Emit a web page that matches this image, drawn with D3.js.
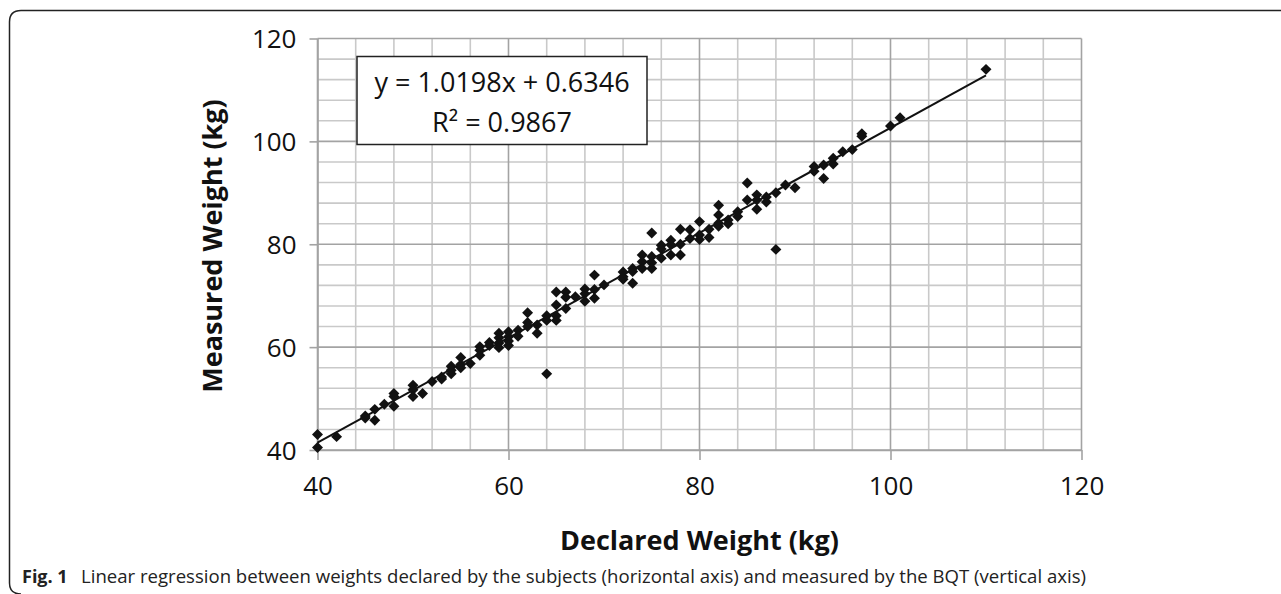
<!DOCTYPE html>
<html>
<head>
<meta charset="utf-8">
<script src="https://cdn.jsdelivr.net/npm/d3@7"></script>
<style>
  body { margin: 0; background: #fff; }
  svg { display: block; font-family: "Open Sans", "Liberation Sans", sans-serif; }
</style>
</head>
<body>
<svg id="chart" width="1281" height="594"></svg>
<script>
// declared weight (x) and measured weight (y)
var declared = [40, 40, 42, 45, 45, 46, 46, 47, 48, 48, 48, 50, 50, 50, 51, 52, 53, 53,
    54, 54, 54, 55, 55, 55, 56, 57, 57, 57, 58, 58, 59, 59, 59, 59, 60, 60, 60, 60,
    61, 61, 62, 62, 62, 63, 63, 64, 64, 64, 65, 65, 65, 65, 66, 66, 66, 67, 68, 68, 68,
    69, 69, 69, 70, 72, 72, 72, 73, 73, 73, 74, 74, 74, 75, 75, 75, 75, 76, 76, 76,
    77, 77, 77, 78, 78, 78, 79, 79, 80, 80, 80, 81, 81, 82, 82, 82, 82, 83, 83, 84, 84,
    85, 85, 86, 86, 86, 87, 87, 88, 88, 89, 90, 92, 92, 93, 93, 94, 94, 95, 96, 97, 97,
    100, 101, 110]
var measured = [43.0, 40.5, 42.6, 46.6, 46.2, 47.9, 45.8, 48.9, 51.0, 50.4, 48.5, 52.6, 51.7, 50.4, 51.0, 53.3, 54.2, 53.8,
    56.3, 54.8, 55.5, 58.0, 56.6, 56.0, 56.8, 60.1, 59.4, 58.4, 60.9, 60.3, 62.7, 61.8, 60.8, 59.9, 63.0, 62.0, 61.2, 60.3,
    63.3, 62.1, 66.7, 64.8, 64.0, 64.3, 62.7, 66.1, 65.2, 54.8, 70.7, 68.2, 66.1, 65.2, 70.7, 69.7, 67.5, 69.8, 71.3, 70.4, 68.9,
    74.0, 71.2, 69.5, 72.1, 74.6, 73.7, 73.2, 75.3, 74.7, 72.4, 77.9, 76.6, 75.3, 82.2, 77.6, 76.4, 75.3, 79.8, 79.1, 77.3,
    80.8, 79.9, 77.9, 82.9, 80.0, 77.9, 82.8, 81.1, 84.4, 81.8, 80.9, 82.9, 81.3, 87.6, 85.7, 84.1, 83.5, 84.7, 84.0, 86.3, 85.4,
    91.9, 88.6, 89.6, 88.6, 86.8, 89.2, 88.2, 90.0, 79.0, 91.5, 91.0, 95.1, 94.2, 95.4, 92.8, 96.7, 95.6, 98.0, 98.4, 101.5, 101.0,
    103.0, 104.6, 114.0]

var fitSlope = 1.0198
var fitIntercept = 0.6346
var fitRange = [40, 110]
var eqLines = ["y = 1.0198x + 0.6346", "R\u00b2 = 0.9867"]

var axisTicks = [40, 60, 80, 100, 120]
var xTitle = "Declared Weight (kg)"
var yTitle = "Measured Weight (kg)"
var captionBold = "Fig. 1"
var captionText = "Linear regression between weights declared by the subjects (horizontal axis) and measured by the BQT (vertical axis)"

var svg = d3.select("#chart")
var plotL = 317.5, plotR = 1081.5, plotT = 38.5, plotB = 450

var x = d3.scaleLinear().domain([40, 120]).range([plotL, plotR])
var y = d3.scaleLinear().domain([40, 120]).range([plotB, plotT])

// frame around the figure
svg.append("path")
    .attr("d", "M1290,10.5 L21,10.5 Q9.5,10.5 9.5,22 L9.5,583 Q9.5,594 21,594")
    .style("fill", "none")
    .style("stroke", "#222")
    .style("stroke-width", 1.5)

// minor grid every 4 kg
var minor = d3.range(40, 121, 4).filter(function(v) { return v % 20 != 0 })
svg.append("g").selectAll("line").data(minor).enter().append("line")
    .attr("x1", function(d) { return x(d) }).attr("x2", function(d) { return x(d) })
    .attr("y1", plotT).attr("y2", plotB)
    .style("stroke", "#c9c9c9").style("stroke-width", 1.6)
svg.append("g").selectAll("line").data(minor).enter().append("line")
    .attr("y1", function(d) { return y(d) }).attr("y2", function(d) { return y(d) })
    .attr("x1", plotL).attr("x2", plotR)
    .style("stroke", "#c9c9c9").style("stroke-width", 1.6)

// major grid
svg.append("g").selectAll("line").data(axisTicks).enter().append("line")
    .attr("x1", function(d) { return x(d) }).attr("x2", function(d) { return x(d) })
    .attr("y1", plotT).attr("y2", plotB)
    .style("stroke", "#a3a3a3").style("stroke-width", 1.6)
svg.append("g").selectAll("line").data(axisTicks).enter().append("line")
    .attr("y1", function(d) { return y(d) }).attr("y2", function(d) { return y(d) })
    .attr("x1", plotL).attr("x2", plotR)
    .style("stroke", "#a3a3a3").style("stroke-width", 1.6)

// axes
var xAxis = svg.append("g")
    .attr("transform", "translate(0," + plotB + ")")
    .call(d3.axisBottom(x).tickValues(axisTicks).tickSize(10).tickPadding(17).tickSizeOuter(0))
var yAxis = svg.append("g")
    .attr("transform", "translate(" + plotL + ",0)")
    .call(d3.axisLeft(y).tickValues(axisTicks).tickSize(8).tickPadding(13).tickSizeOuter(0))

svg.selectAll(".domain").style("stroke", "#a3a3a3").style("stroke-width", 1.6)
svg.selectAll(".tick line").style("stroke", "#a3a3a3").style("stroke-width", 1.6)
svg.selectAll(".tick text")
    .style("font-family", "'Open Sans', sans-serif")
    .style("font-size", "26px")
    .style("fill", "#111")
yAxis.selectAll(".tick text").attr("dy", "0.36em")

// trendline
var fitLine = d3.line()
    .x(function(d) { return x(d) })
    .y(function(d) { return y(fitSlope * d + fitIntercept) })
svg.append("path")
    .datum(fitRange)
    .attr("d", fitLine)
    .style("fill", "none")
    .style("stroke", "#111")
    .style("stroke-width", 2)

// markers
var diamond = d3.symbol().type(d3.symbolSquare).size(60)
svg.append("g").selectAll("path").data(declared).enter().append("path")
    .attr("d", diamond)
    .attr("transform", function(d, i) {
        return "translate(" + x(d) + "," + y(measured[i]) + ") rotate(45)" })
    .style("fill", "#111")

// equation box
var box = svg.append("g")
box.append("rect")
    .attr("x", 357).attr("y", 56.5).attr("width", 290).attr("height", 88)
    .style("fill", "#fff").style("stroke", "#222").style("stroke-width", 1.5)
box.selectAll("text").data(eqLines).enter().append("text")
    .attr("x", 502)
    .attr("y", function(d, i) { return 92 + i * 40 })
    .attr("text-anchor", "middle")
    .style("font-size", "27px")
    .style("fill", "#111")
    .text(function(d) { return d })

// axis titles
svg.append("text")
    .attr("x", x(80)).attr("y", 550)
    .attr("text-anchor", "middle")
    .style("font-size", "27px").style("font-weight", "bold").style("fill", "#111")
    .text(xTitle)
svg.append("text")
    .attr("transform", "translate(222," + 246 + ") rotate(-90)")
    .attr("text-anchor", "middle")
    .style("font-size", "27px").style("font-weight", "bold").style("fill", "#111")
    .text(yTitle)

// caption
svg.append("text")
    .attr("x", 22).attr("y", 583)
    .style("font-size", "18px").style("font-weight", "bold").style("fill", "#222")
    .text(captionBold)
svg.append("text")
    .attr("x", 81).attr("y", 583)
    .attr("textLength", 1005).attr("lengthAdjust", "spacingAndGlyphs")
    .style("font-size", "18px").style("fill", "#222")
    .text(captionText)
</script>
</body>
</html>
